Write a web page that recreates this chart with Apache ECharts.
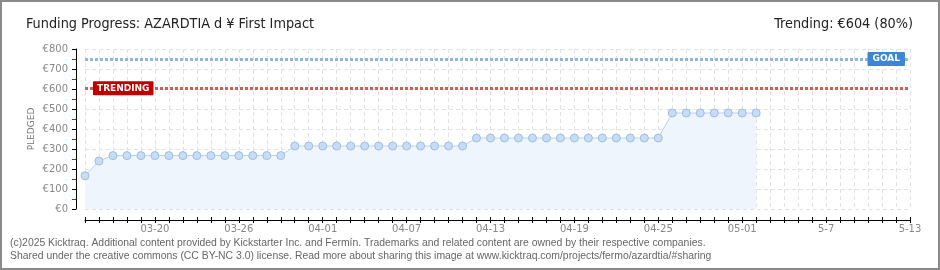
<!DOCTYPE html>
<html><head><meta charset="utf-8">
<script src="https://cdn.jsdelivr.net/npm/echarts@6/dist/echarts.min.js"></script>
<style>
html,body{margin:0;padding:0;background:#fff;}
#wrap{position:relative;width:940px;height:270px;}
#chart{width:940px;height:270px;}
#border{position:absolute;left:0;top:0;width:940px;height:270px;box-sizing:border-box;border:2px solid #8a8a8a;pointer-events:none;}
</style></head>
<body>
<div id="wrap"><div id="chart"></div><div id="border"></div></div>
<script>
const titleText = 'Funding Progress: AZARDTIA d \u00a5 First Impact';
const trendingText = 'Trending: \u20ac604 (80%)';
const footerLines = [
  '(c)2025 Kicktraq. Additional content provided by Kickstarter Inc. and Ferm\u00edn. Trademarks and related content are owned by their respective companies.',
  'Shared under the creative commons (CC BY-NC 3.0) license. Read more about sharing this image at www.kicktraq.com/projects/fermo/azardtia/#sharing'
];
const categories = [
  '03-15','03-16','03-17','03-18','03-19','03-20','03-21','03-22','03-23','03-24',
  '03-25','03-26','03-27','03-28','03-29','03-30','03-31','04-01','04-02','04-03',
  '04-04','04-05','04-06','04-07','04-08','04-09','04-10','04-11','04-12','04-13',
  '04-14','04-15','04-16','04-17','04-18','04-19','04-20','04-21','04-22','04-23',
  '04-24','04-25','04-26','04-27','04-28','04-29','04-30','05-01','05-02','5-3',
  '5-4','5-5','5-6','5-7','5-8','5-9','5-10','5-11','5-12','5-13'
];
const pledged = [
  166, 240,
  267, 267, 267, 267, 267, 267, 267, 267, 267, 267, 267, 267, 267,
  315, 315, 315, 315, 315, 315, 315, 315, 315, 315, 315, 315, 315,
  355, 355, 355, 355, 355, 355, 355, 355, 355, 355, 355, 355, 355, 355,
  480, 480, 480, 480, 480, 480, 480
];
const goal = 750;
const trending = 604;
const yMin = 0, yMax = 800, yStep = 100;
const labelEvery = 6, labelStart = 5;

const chart = echarts.init(document.getElementById('chart'), null, {renderer:'canvas'});
const axisFont = 'DejaVu Sans';
const headFont = {fontFamily: 'DejaVu Sans Condensed', fontSize: 14.3, fontWeight: 'normal', color: '#222'};
const option = {
  animation: false,
  backgroundColor: '#fff',
  title: [
    {text: titleText, left: 21, top: 12, textStyle: headFont},
    {text: trendingText, right: 22, top: 12, textStyle: headFont}
  ],
  graphic: footerLines.map((t, i) => ({
    type: 'text', left: 10, top: 238 + i * 13,
    style: {text: t, fill: '#666', font: '10.4px "Liberation Sans"'}
  })),
  grid: {left: 85, right: 30, top: 49, bottom: 61},
  xAxis: [{
    type: 'category', data: categories, boundaryGap: false, offset: 11,
    axisLine: {onZero: false, lineStyle: {color: '#000', width: 1}},
    axisTick: {show: true, length: 3, interval: 0, lineStyle: {color: '#000'}},
    axisLabel: {
      interval: (i) => (i - labelStart) % labelEvery === 0 && i >= labelStart,
      color: '#888', fontSize: 10, fontFamily: axisFont, margin: 4
    },
    splitLine: {show: true, interval: 0, lineStyle: {color: '#e2e2e2', type: [4, 3], width: 1}}
  }, {
    type: 'category', data: categories, boundaryGap: false, offset: 11, position: 'bottom',
    axisLine: {show: false, onZero: false},
    axisTick: {show: true, inside: true, length: 3, interval: 0, lineStyle: {color: '#000'}},
    axisLabel: {show: false}, splitLine: {show: false}
  }],
  yAxis: {
    type: 'value', min: yMin, max: yMax, interval: yStep, offset: 9,
    name: 'PLEDGED', nameLocation: 'middle', nameGap: 40, nameMoveOverlap: false,
    nameTextStyle: {color: '#777', fontSize: 9, fontFamily: axisFont},
    axisLine: {show: true, onZero: false, lineStyle: {color: '#000'}},
    axisTick: {show: true, length: 4, lineStyle: {color: '#000'}},
    minorTick: {show: true, splitNumber: 2, length: 4, lineStyle: {color: '#e00000'}},
    axisLabel: {formatter: '\u20ac{value}', color: '#888', fontSize: 10, fontFamily: axisFont, margin: 8},
    splitLine: {show: true, lineStyle: {color: '#e2e2e2', type: [4, 3], width: 1}}
  },
  series: [{
    type: 'line', data: pledged, xAxisIndex: 0,
    symbol: 'circle', symbolSize: 8,
    itemStyle: {color: '#c7ddf5', borderColor: '#9dbde2', borderWidth: 1},
    lineStyle: {color: '#b7d3f1', width: 1},
    areaStyle: {color: '#eef5fd', opacity: 1},
    z: 3,
    markLine: {
      silent: true, symbol: 'none', animation: false,
      data: [
        {yAxis: goal,
         lineStyle: {color: '#8fb6e2', width: 3, type: [3, 2]},
         label: {show: true, formatter: 'GOAL', position: 'insideEndTop', distance: [5, 0], verticalAlign: 'middle',
                 backgroundColor: '#3b86d6', color: '#fff', fontSize: 9, fontWeight: 'bold', fontFamily: axisFont,
                 padding: [3, 5, 2, 5], borderRadius: 1}},
        {yAxis: trending,
         lineStyle: {color: '#d75a5a', width: 3, type: [3, 2]},
         label: {show: true, formatter: 'TRENDING', position: 'insideStartTop', distance: [8, 0], verticalAlign: 'middle',
                 backgroundColor: '#c00000', color: '#fff', fontSize: 9, fontWeight: 'bold', fontFamily: axisFont,
                 padding: [3, 4, 2, 4], borderRadius: 1}}
      ]
    }
  }]
};
chart.setOption(option);
</script>
</body></html>
